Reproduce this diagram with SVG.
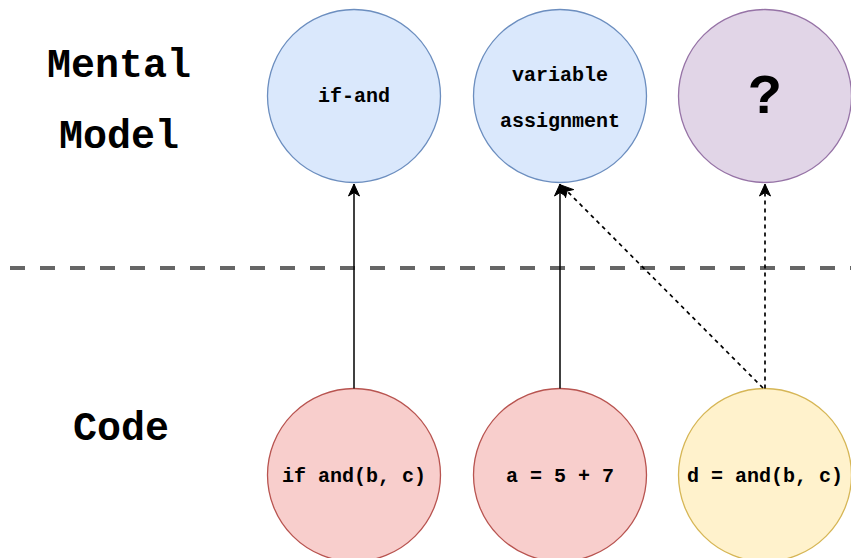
<svg xmlns="http://www.w3.org/2000/svg" width="851" height="558" viewBox="0 0 851 558">
  <style>
    .lbl { font-family: "Liberation Mono", "Courier New", monospace; font-weight: bold; fill: #000; text-anchor: middle; }
    .big { font-size: 40px; }
    .node { font-size: 20px; }
    .blue { fill: #dae8fc; stroke: #6c8ebf; stroke-width: 1.3; }
    .purple { fill: #e1d5e7; stroke: #9673a6; stroke-width: 1.3; }
    .red { fill: #f8cecc; stroke: #b85450; stroke-width: 1.3; }
    .yellow { fill: #fff2cc; stroke: #d6b656; stroke-width: 1.3; }
    .edge { fill: none; stroke: #000; stroke-width: 1.5; }
    .dash { stroke-dasharray: 4 4; stroke-width: 1.7; }
  </style>
  <defs>
    <!-- classic block arrowhead, tip sits on the line end -->
    <marker id="arrow" viewBox="-13 -6 14 12" refX="0" refY="0" markerWidth="14" markerHeight="12" markerUnits="userSpaceOnUse" orient="auto">
      <path d="M0,0 L-12,-5.5 L-8.5,0 L-12,5.5 Z" fill="#000" stroke="#000" stroke-width="1" stroke-linejoin="miter"/>
    </marker>
  </defs>

  <rect width="851" height="558" fill="#fff"/>

  <!-- section labels -->
  <g id="label-mental-model">
    <text class="lbl big" x="119" y="77">Mental</text>
    <text class="lbl big" x="119" y="148">Model</text>
  </g>
  <g id="label-code">
    <text class="lbl big" x="121" y="440">Code</text>
  </g>

  <!-- divider between the two layers -->
  <g id="divider">
    <line x1="10" y1="268" x2="851" y2="268" stroke="#666" stroke-width="4" stroke-dasharray="15 15"/>
  </g>

  <!-- mental-model nodes -->
  <g id="node-if-and">
    <circle class="blue" cx="354" cy="96" r="86.5"/>
    <text class="lbl node" x="354" y="102">if-and</text>
  </g>
  <g id="node-variable-assignment">
    <circle class="blue" cx="560" cy="96" r="86.5"/>
    <text class="lbl node" x="560" y="81">variable</text>
    <text class="lbl node" x="560" y="127">assignment</text>
  </g>
  <g id="node-unknown">
    <circle class="purple" cx="765" cy="96" r="86.5"/>
    <text class="lbl" x="765" y="113" font-size="56">?</text>
  </g>

  <!-- code nodes -->
  <g id="node-if-and-code">
    <circle class="red" cx="354" cy="475" r="86.5"/>
    <text class="lbl node" x="354" y="482">if and(b, c)</text>
  </g>
  <g id="node-assign-code">
    <circle class="red" cx="560" cy="475" r="86.5"/>
    <text class="lbl node" x="560" y="482">a = 5 + 7</text>
  </g>
  <g id="node-and-assign-code">
    <circle class="yellow" cx="765" cy="475" r="86.5"/>
    <text class="lbl node" x="765" y="482">d = and(b, c)</text>
  </g>

  <!-- connectors -->
  <g id="connectors">
    <line class="edge" x1="354" y1="388.5" x2="354" y2="184" marker-end="url(#arrow)"/>
    <line class="edge" x1="560" y1="388.5" x2="560" y2="184" marker-end="url(#arrow)"/>
    <line class="edge dash" x1="765" y1="388.5" x2="765" y2="184" marker-end="url(#arrow)"/>
    <line class="edge dash" x1="763" y1="388" x2="561" y2="185" marker-end="url(#arrow)"/>
  </g>
</svg>
